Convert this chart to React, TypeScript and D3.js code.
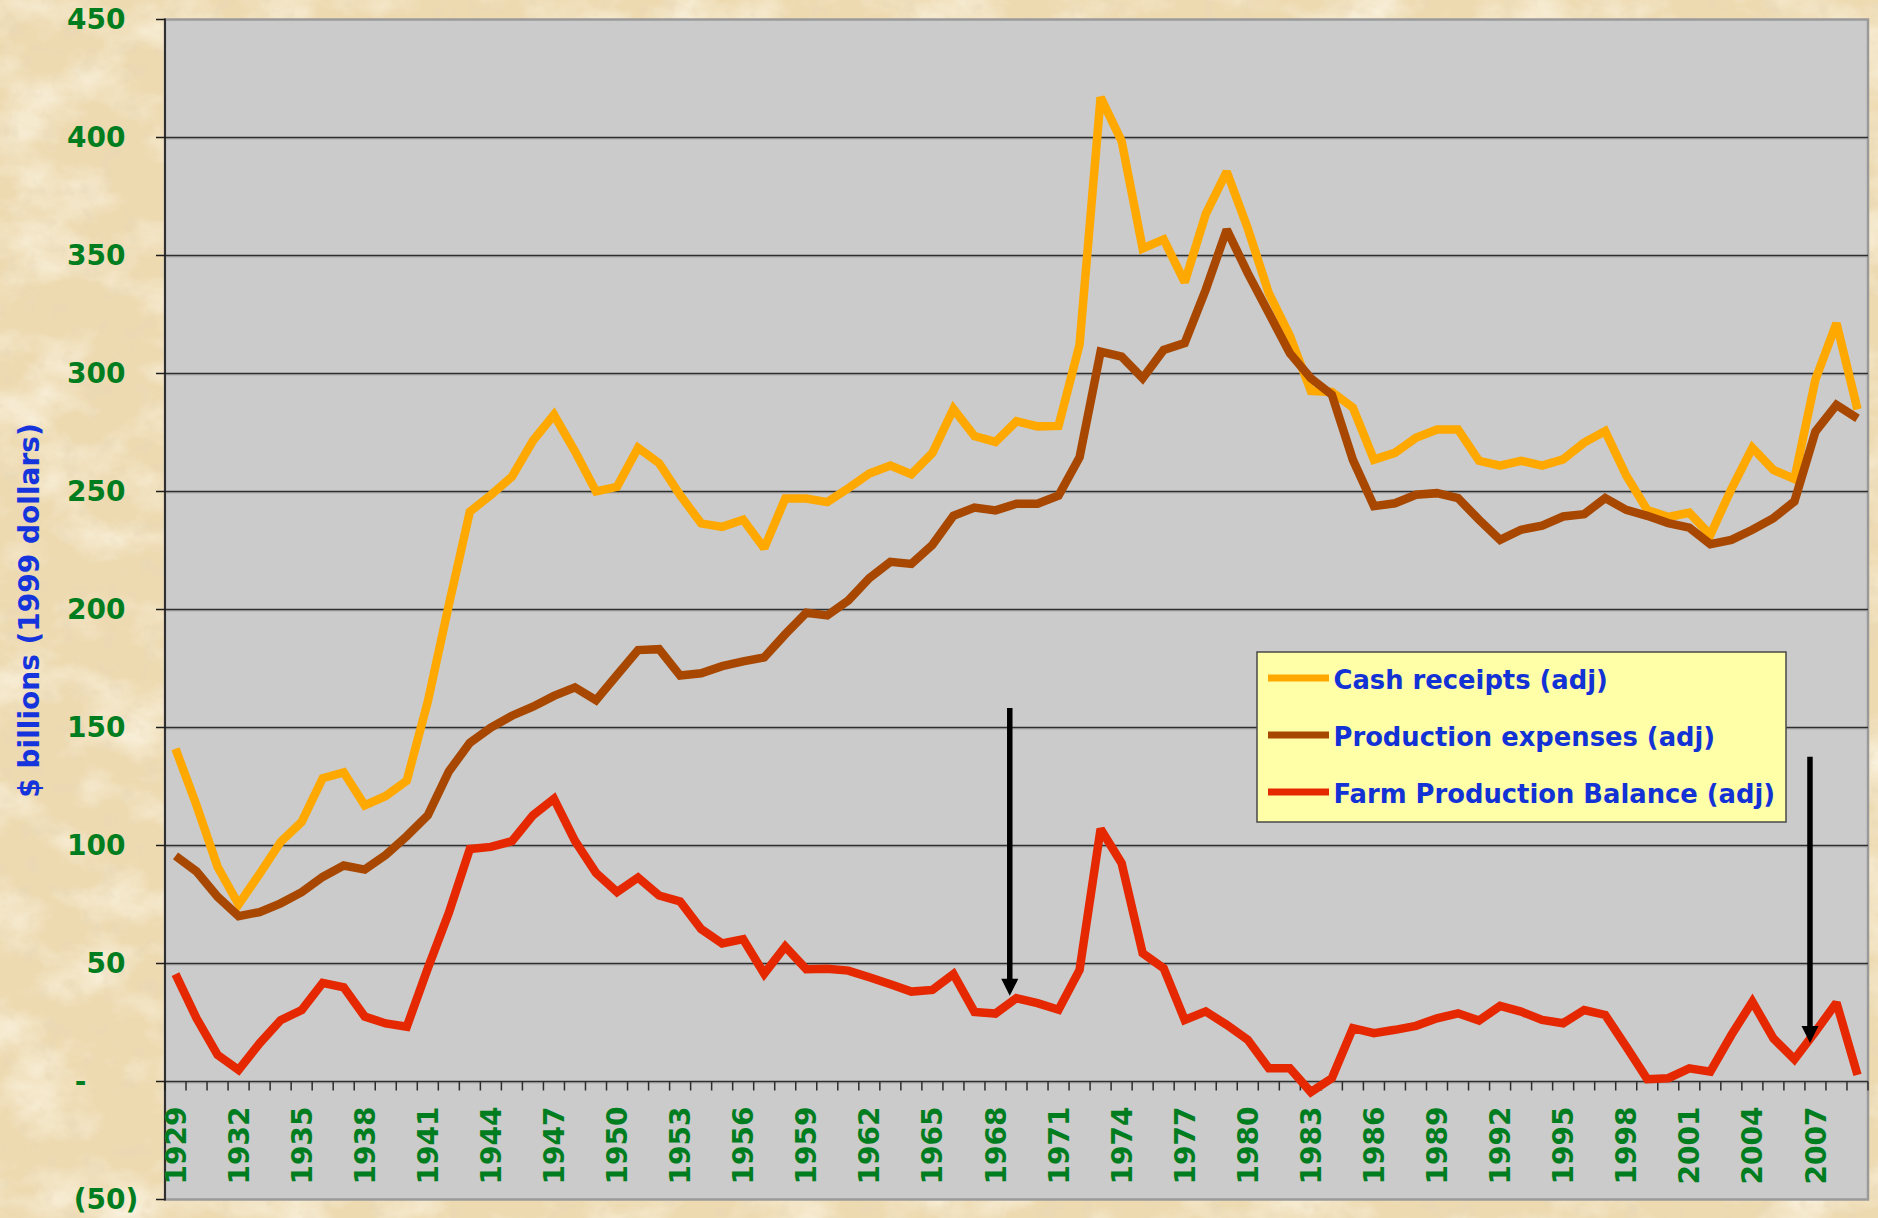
import React from "react";
import * as d3 from "d3";

// ---------- data ----------
const years = [
  1929, 1930, 1931, 1932, 1933, 1934, 1935, 1936, 1937, 1938, 1939, 1940,
  1941, 1942, 1943, 1944, 1945, 1946, 1947, 1948, 1949, 1950, 1951, 1952,
  1953, 1954, 1955, 1956, 1957, 1958, 1959, 1960, 1961, 1962, 1963, 1964,
  1965, 1966, 1967, 1968, 1969, 1970, 1971, 1972, 1973, 1974, 1975, 1976,
  1977, 1978, 1979, 1980, 1981, 1982, 1983, 1984, 1985, 1986, 1987, 1988,
  1989, 1990, 1991, 1992, 1993, 1994, 1995, 1996, 1997, 1998, 1999, 2000,
  2001, 2002, 2003, 2004, 2005, 2006, 2007, 2008, 2009,
];

const cashReceipts = [
  141, 117, 91, 75, 88, 101.5, 110, 128.5, 131, 117, 121, 127.5,
  161, 202, 241.5, 248.5, 256.3, 271.5, 282.5, 267, 250, 252, 268.5, 262,
  248.5, 236.5, 235, 238, 226, 247, 247, 245.5, 251.4, 257.6, 261, 257.3,
  266.3, 285, 273.5, 271, 279.8, 277.6, 277.8, 312.3, 417, 398.5, 353, 356.8,
  338.7, 367.5, 385.5, 361.5, 334, 316, 292.6, 292.2, 285.5, 263.5, 266.4, 272.8,
  276.3, 276.3, 263, 261, 263, 261, 263.6, 270.7, 275.6, 256.8, 242.2, 239.2,
  241, 231.6, 251, 268.5, 259.1, 255.3, 297.5, 321.3, 284.8,
];

const productionExpenses = [
  95.6, 89, 78.3, 70.1, 71.8, 75.5, 80.2, 86.7, 91.5, 89.8, 96, 104,
  112.8, 131.4, 143.5, 150, 155, 158.8, 163.4, 167, 161.6, 172.2, 182.8, 183.2,
  172, 173, 176, 178, 179.7, 189.5, 198.6, 197.5, 203.8, 213.3, 220.2, 219.3,
  227.4, 239.7, 243.2, 242, 244.8, 244.8, 248.3, 264.5, 309.3, 307.2, 298, 310,
  312.9, 335.5, 361, 342.5, 325.6, 308.6, 298, 291, 263.4, 243.8, 245, 248.6,
  249.3, 247.2, 238, 229.5, 233.8, 235.5, 239.4, 240.4, 247.2, 242.2, 239.7, 236.6,
  234.7, 227.7, 229.5, 233.8, 238.7, 245.8, 275.4, 286.7, 281,
];

const farmBalance = [
  45.5, 26.8, 11.3, 4.9, 16.2, 26, 30.3, 41.8, 39.9, 27.5, 24.6, 23.2,
  48, 71.5, 98.5, 99.4, 101.8, 112.8, 119.8, 102, 88.4, 80.3, 86.4, 78.8,
  76.3, 64.6, 58.5, 60.3, 45.7, 57.2, 47.6, 47.8, 47, 44.2, 41.2, 38.1,
  38.8, 45.5, 29.5, 28.8, 35.3, 33.2, 30.4, 47.3, 107, 92.5, 54.4, 48,
  26.1, 29.7, 24, 17.7, 5.6, 5.6, -4.5, 1.4, 22.6, 20.5, 21.9, 23.6,
  26.8, 28.9, 25.8, 32, 29.6, 26.1, 24.7, 30.3, 28.2, 14.8, 1.0, 1.4,
  5.6, 4.2, 19.7, 33.8, 18.3, 9.4, 21.1, 33.4, 2.8,
];

const seriesNames = [
  "Cash receipts (adj)",
  "Production expenses (adj)",
  "Farm Production Balance (adj)",
];
const seriesColors = ["#ffa800", "#a84800", "#e62800"];

const xTickYears = [
  1929, 1932, 1935, 1938, 1941, 1944, 1947, 1950, 1953, 1956, 1959, 1962,
  1965, 1968, 1971, 1974, 1977, 1980, 1983, 1986, 1989, 1992, 1995, 1998,
  2001, 2004, 2007,
];
const yTicks = [-50, 0, 50, 100, 150, 200, 250, 300, 350, 400, 450];
const yTitle = "$ billions (1999 dollars)";

// annotation arrows (year position, start value, tip value)
const arrowYears = [1968.68, 2006.74];
const arrowFrom = [158.3, 137.6];
const arrowTo = [36.3, 16.3];

// ---------- layout ----------
const W = 1878;
const H = 1218;
const L = 165;
const R = 1868;
const T = 19.5;
const B = 1199.5;
const FONT = "'DejaVu Sans', Verdana, sans-serif";
const GREEN = "#007d1f";
const BLUE = "#1534dc";

export default function App() {
  const x = d3.scaleLinear().domain([years[0] - 0.5, years[years.length - 1] + 0.5]).range([L, R]);
  const y = d3.scaleLinear().domain([-50, 450]).range([B, T]);

  const lineGen = d3
    .line<number>()
    .x((_, i) => x(years[i]))
    .y((d) => y(d));

  const series = [cashReceipts, productionExpenses, farmBalance];

  const fs = 28;
  const endX = 138.2;
  const parenW = 0.457 * fs;
  const digitW = 0.696 * fs;
  const yLabel = (v: number) => (v < 0 ? `(${-v})` : v === 0 ? "-" : String(v));
  const yLabelEnd = (v: number) =>
    v < 0 ? endX : v === 0 ? endX - parenW - 2 * digitW : endX - parenW;

  const boundaries = d3.range(years.length + 1).map((i) => years[0] - 0.5 + i);

  const leg = { x: 1257, y: 652, w: 529, h: 170 };
  const legRows = [678, 735, 792];

  return (
    <div style={{ position: "absolute", left: 0, top: 0 }}>
      <svg width={W} height={H} style={{ display: "block" }} fontFamily={FONT}>
        <defs>
          <filter id="parch" x="0" y="0" width="100%" height="100%">
            <feTurbulence type="fractalNoise" baseFrequency="0.012 0.018" numOctaves={5} seed={7} />
            <feColorMatrix
              type="matrix"
              values="0 0 0 0 1  0 0 0 0 0.97  0 0 0 0 0.88  1.6 0 0 0 -0.72"
            />
          </filter>
          <filter id="parch2" x="0" y="0" width="100%" height="100%">
            <feTurbulence type="fractalNoise" baseFrequency="0.05" numOctaves={4} seed={3} />
            <feColorMatrix
              type="matrix"
              values="0 0 0 0 0.8  0 0 0 0 0.68  0 0 0 0 0.47  1.8 0 0 0 -0.98"
            />
          </filter>
        </defs>

        {/* parchment background */}
        <rect x={0} y={0} width={W} height={H} fill="#eddab1" />
        <rect x={0} y={0} width={W} height={H} filter="url(#parch)" />
        <rect x={0} y={0} width={W} height={H} filter="url(#parch2)" />

        {/* plot area */}
        <rect x={L} y={T} width={R - L} height={B - T} fill="#cbcbcb" stroke="#9a9a9a" strokeWidth={2.5} />

        {/* gridlines */}
        {yTicks
          .filter((v) => v > 0 && v < 450)
          .map((v) => (
            <g key={`g${v}`}>
              <line x1={L} x2={R} y1={y(v) + 1.4} y2={y(v) + 1.4} stroke="#a3a3a3" strokeWidth={1} />
              <line x1={L} x2={R} y1={y(v)} y2={y(v)} stroke="#2e2e2e" strokeWidth={1.5} />
            </g>
          ))}

        {/* x axis at zero */}
        <line x1={L} x2={R} y1={y(0) + 1.4} y2={y(0) + 1.4} stroke="#a3a3a3" strokeWidth={1} />
        <line x1={L} x2={R} y1={y(0)} y2={y(0)} stroke="#2e2e2e" strokeWidth={1.5} />
        {boundaries.map((b) => (
          <line key={`xt${b}`} x1={x(b)} x2={x(b)} y1={y(0)} y2={y(0) + 9} stroke="#2e2e2e" strokeWidth={1.5} />
        ))}

        {/* y axis */}
        <line x1={L} x2={L} y1={T - 1} y2={B + 1} stroke="#1e1e1e" strokeWidth={1.7} />
        {yTicks.map((v) => (
          <line key={`yt${v}`} x1={L - 9} x2={L} y1={y(v)} y2={y(v)} stroke="#1e1e1e" strokeWidth={1.5} />
        ))}
        {yTicks.map((v) => (
          <text
            key={`yl${v}`}
            x={yLabelEnd(v)}
            y={y(v)}
            dy="0.35em"
            textAnchor="end"
            fontSize={fs}
            fontWeight="bold"
            fill={GREEN}
          >
            {yLabel(v)}
          </text>
        ))}

        {/* y title */}
        <text
          transform={`translate(39, ${(T + B) / 2 + 1}) rotate(-90)`}
          textAnchor="middle"
          fontSize={28}
          fontWeight="bold"
          fill={BLUE}
        >
          {yTitle}
        </text>

        {/* x labels */}
        {xTickYears.map((yr) => (
          <text
            key={`xl${yr}`}
            transform={`translate(${x(yr)}, ${y(0) + 25}) rotate(-90)`}
            dy="0.36em"
            textAnchor="end"
            fontSize={28}
            fontWeight="bold"
            fill={GREEN}
          >
            {yr}
          </text>
        ))}

        {/* series */}
        {series.map((s, i) => (
          <path
            key={`s${i}`}
            d={lineGen(s) || ""}
            fill="none"
            stroke={seriesColors[i]}
            strokeWidth={8.5}
            strokeLinejoin="miter"
            strokeMiterlimit={2}
          />
        ))}

        {/* arrows */}
        {arrowYears.map((ay, i) => {
          const ax = x(ay);
          const y0 = y(arrowFrom[i]);
          const y1 = y(arrowTo[i]);
          const head = 17;
          return (
            <g key={`ar${i}`}>
              <line x1={ax} x2={ax} y1={y0} y2={y1 - head + 1} stroke="#000" strokeWidth={5.5} />
              <path d={`M${ax - 8.5},${y1 - head} L${ax + 8.5},${y1 - head} L${ax},${y1} Z`} fill="#000" />
            </g>
          );
        })}

        {/* legend */}
        <rect x={leg.x} y={leg.y} width={leg.w} height={leg.h} fill="#ffffa8" stroke="#4a4a4a" strokeWidth={1.5} />
        {seriesNames.map((n, i) => (
          <g key={`lg${i}`}>
            <line x1={1268} x2={1329} y1={legRows[i]} y2={legRows[i]} stroke={seriesColors[i]} strokeWidth={7} />
            <text
              x={1333.5}
              y={legRows[i] + 2}
              dy="0.35em"
              fontSize={25.8}
              fontWeight="bold"
              fill="#1232d6"
            >
              {n}
            </text>
          </g>
        ))}
      </svg>
    </div>
  );
}
